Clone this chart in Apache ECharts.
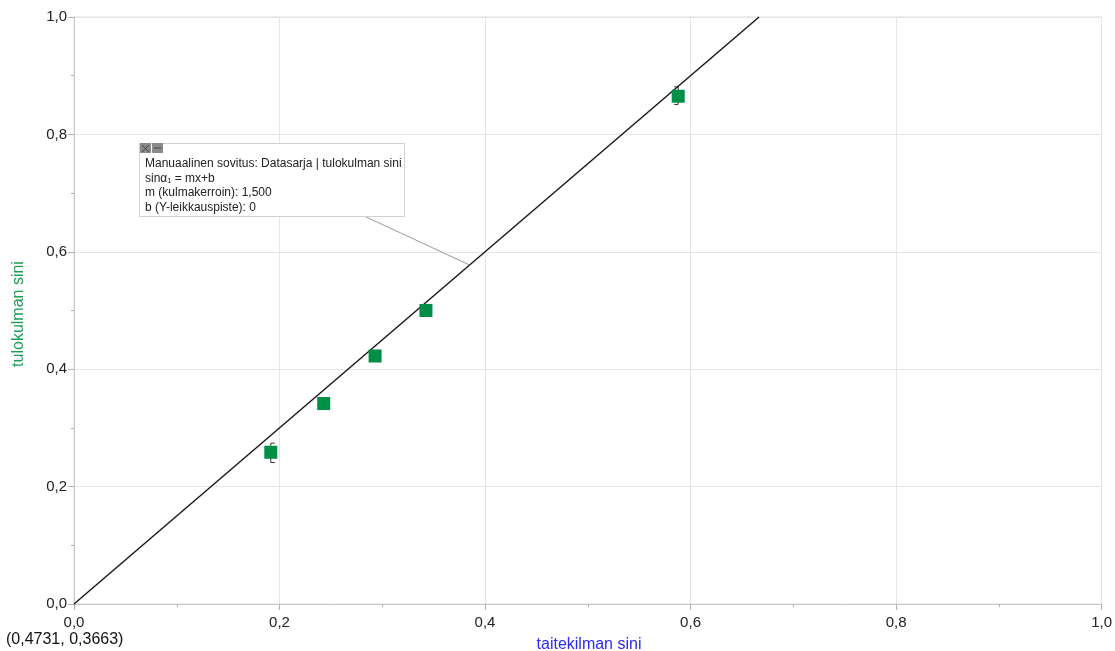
<!DOCTYPE html>
<html>
<head>
<meta charset="utf-8">
<script src="https://cdn.jsdelivr.net/npm/echarts@6/dist/echarts.min.js"></script>
<style>
html,body{margin:0;padding:0;background:#fff;}
#chart{width:1115px;height:651px;}
</style>
</head>
<body>
<div id="chart"></div>
<script>
// ---- data ----
var xValues = [0.1915, 0.2430, 0.2930, 0.3425, 0.5880];   // taitekilman sini
var yValues = [0.2585, 0.3415, 0.4225, 0.5000, 0.8650];   // tulokulman sini
var errX    = [0.1915, 0.5880];
var errLow  = [0.2410, 0.8510];
var errHigh = [0.2740, 0.8810];
var errSide = [1, -1];
var fitSlope = [1.5];
var fitIntercept = [0];
var tickValues = [0, 0.2, 0.4, 0.6, 0.8, 1.0];
var boxLines = [
  'Manuaalinen sovitus: Datasarja | tulokulman sini',
  'sinα\u2081 = mx+b',
  'm (kulmakerroin): 1,500',
  'b (Y-leikkauspiste): 0'
];
var cursorText = '(0,4731, 0,3663)';
var xTitle = 'taitekilman sini';
var yTitle = 'tulokulman sini';

// ---- build ----
var m = fitSlope[0], b = fitIntercept[0];
var xEnd = Math.min(1, (1 - b) / m);
var fitData = [[0, b], [xEnd, m * xEnd + b]];
var points = xValues.map(function (x, i) { return [x, yValues[i]]; });
var errData = errX.map(function (x, i) { return [x, errLow[i], errHigh[i], errSide[i]]; });

function fmt(v) { return v.toFixed(1).replace('.', ','); }

var font = 'Liberation Sans, Arial, sans-serif';
function axisCommon(margin) {
  return {
    type: 'value', min: 0, max: 1, interval: 0.2,
    axisLine: { show: true, onZero: false, lineStyle: { color: '#c8c8c8', width: 1 } },
    axisTick: { show: true, length: 6, lineStyle: { color: '#b0b0b0' } },
    minorTick: { show: true, splitNumber: 2, length: 3, lineStyle: { color: '#b0b0b0' } },
    splitLine: { show: true, lineStyle: { color: '#e6e6e6', width: 1 } },
    axisLabel: { formatter: fmt, fontFamily: font, fontSize: 15, color: '#222', margin: margin }
  };
}

var chart = echarts.init(document.getElementById('chart'));
var option = {
  animation: false,
  backgroundColor: '#fff',
  grid: { left: 74, top: 17, right: 12, bottom: 47, show: true, borderColor: '#dcdcdc', borderWidth: 1 },
  xAxis: axisCommon(11),
  yAxis: axisCommon(7),
  series: [
    {
      type: 'line', data: fitData, symbol: 'none', silent: true,
      lineStyle: { color: '#1a1a1a', width: 1.5 }, z: 3
    },
    {
      type: 'custom', z: 2, silent: true,
      renderItem: function (params, api) {
        var top = api.coord([api.value(0), api.value(2)]);
        var bot = api.coord([api.value(0), api.value(1)]);
        var side = api.value(3) * 4;
        var st = { stroke: '#333', lineWidth: 1, fill: null };
        return {
          type: 'group',
          children: [
            { type: 'line', shape: { x1: top[0], y1: top[1], x2: bot[0], y2: bot[1] }, style: st },
            { type: 'line', shape: { x1: top[0], y1: top[1], x2: top[0] + side, y2: top[1] }, style: st },
            { type: 'line', shape: { x1: bot[0], y1: bot[1], x2: bot[0] + side, y2: bot[1] }, style: st }
          ]
        };
      },
      data: errData
    },
    {
      type: 'scatter', data: points, symbol: 'rect', symbolSize: 13, z: 4,
      itemStyle: { color: '#008f47', opacity: 1 }
    }
  ]
};
chart.setOption(option);

// annotation leader end on the fit line
var anchorX = 0.385;
var anchorPx = chart.convertToPixel({ gridIndex: 0 }, [anchorX, m * anchorX + b]);

var graphics = [
  { type: 'line', shape: { x1: 364, y1: 216, x2: anchorPx[0], y2: anchorPx[1] }, style: { stroke: '#9a9a9a', lineWidth: 1 }, z: 10 },
  { type: 'rect', shape: { x: 139.5, y: 143.5, width: 265, height: 73 }, style: { fill: '#fff', stroke: '#d0d0d0', lineWidth: 1 }, z: 11 },
  { type: 'rect', shape: { x: 140, y: 143, width: 11, height: 10 }, style: { fill: '#8a8a8a' }, z: 12 },
  { type: 'rect', shape: { x: 152, y: 143, width: 11, height: 10 }, style: { fill: '#8a8a8a' }, z: 12 },
  { type: 'line', shape: { x1: 142, y1: 145, x2: 149, y2: 152 }, style: { stroke: '#444', lineWidth: 1 }, z: 13 },
  { type: 'line', shape: { x1: 149, y1: 145, x2: 142, y2: 152 }, style: { stroke: '#444', lineWidth: 1 }, z: 13 },
  { type: 'line', shape: { x1: 154, y1: 148, x2: 161, y2: 148 }, style: { stroke: '#444', lineWidth: 1 }, z: 13 },
  { type: 'text', style: { text: cursorText, font: '16px ' + font, fill: '#111', x: 6, y: 640, textVerticalAlign: 'middle' }, z: 12 },
  { type: 'text', style: { text: xTitle, font: '16px ' + font, fill: '#2a2af0', x: 589, y: 645, textAlign: 'center', textVerticalAlign: 'middle' }, z: 12 },
  { type: 'text', rotation: Math.PI / 2, x: 19, y: 314, style: { text: yTitle, font: '16px ' + font, fill: '#1e9e55', x: 0, y: 0, textAlign: 'center', textVerticalAlign: 'middle' }, z: 12 }
];
boxLines.forEach(function (t, i) {
  graphics.push({ type: 'text', style: { text: t, font: '12px ' + font, fill: '#222', x: 145, y: 164 + i * 14.5, textVerticalAlign: 'middle' }, z: 12 });
});
chart.setOption({ graphic: graphics });
</script>
</body>
</html>
